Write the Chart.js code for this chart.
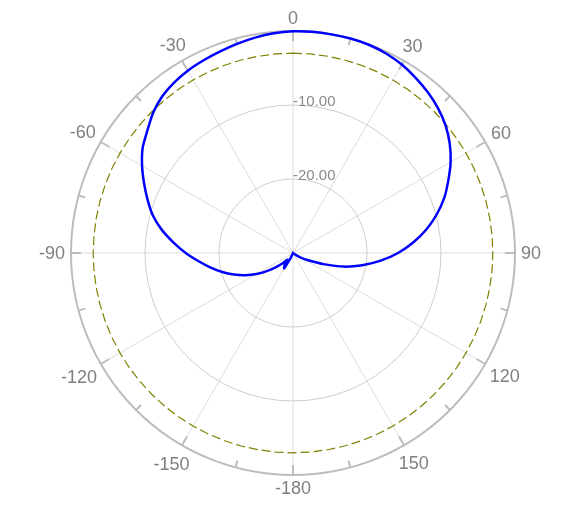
<!DOCTYPE html>
<html>
<head>
<meta charset="utf-8">
<script src="https://cdn.jsdelivr.net/npm/chart.js@4"></script>
<style>
  html, body { margin: 0; padding: 0; background: #fff; }
  canvas { display: block; }
</style>
</head>
<body>
<canvas id="polar" width="588" height="506"></canvas>
<script>
// angle of each sample, clockwise from the top (0 = boresight)
const angles = [
  0, 5, 10, 15, 20, 25, 30, 35, 40, 45, 50, 55,
  60, 65, 70, 75, 80, 85, 90, 95, 100, 105, 110, 115,
  120, 125, 130, 135, 140, 145, 150, 155, 160, 165, 170, 175,
  -180, -175, -170, -165, -160, -155, -150, -145, -140, -135, -130, -125,
  -120, -115, -110, -105, -100, -95, -90, -85, -80, -75, -70, -65,
  -60, -55, -50, -45, -40, -35, -30, -25, -20, -15, -10, -5
];

// measured gain in dB, same order as angles
const gain = [
  -0.05, 0, 0, 0, -0.05, -0.25, -0.6, -1.1, -1.65, -2.3, -3.1, -4.15,
  -5.4, -6.85, -8.25, -9.9, -11.7, -13.7, -15.8, -18.1, -20.5, -22.9, -25.6, -27.6,
  -28.7, -29.5, -30, -30, -30, -30, -30, -30, -30, -30, -30, -30,
  -30, -30, -30, -30, -30, -29.3, -27.6, -28.0, -28.8, -28.1, -27.1, -25.8,
  -24.3, -22.9, -21.5, -20.1, -18.7, -17.2, -15.5, -13.8, -12.0, -10.4, -9.1, -7.8,
  -6.45, -5.2, -4.3, -3.25, -2.45, -1.93, -1.55, -1.3, -1.05, -0.75, -0.45, -0.2
];

const halfPower = -3;               // dashed reference circle
const rMin = -30, rMax = 0, rStep = 10;

const labelFont = "18px 'Liberation Sans', Arial, sans-serif";
const tickFont = "15px 'Liberation Sans', Arial, sans-serif";

const polarDecor = {
  id: 'polarDecor',
  beforeDatasetsDraw(chart) {
    const scale = chart.scales.r;
    const R = scale.drawingArea;
    const ctx = chart.ctx;
    ctx.save();
    ctx.strokeStyle = '#bdbdbd';
    ctx.lineWidth = 2;
    angles.forEach((a, i) => {
      if (a % 15 !== 0) return;
      const len = a % 30 === 0 ? 10 : 7;
      const p1 = scale.getPointPosition(i, R);
      const p2 = scale.getPointPosition(i, R - len);
      ctx.beginPath();
      ctx.moveTo(p1.x, p1.y);
      ctx.lineTo(p2.x, p2.y);
      ctx.stroke();
    });
    ctx.restore();
  },
  afterDraw(chart) {
    const scale = chart.scales.r;
    const R = scale.drawingArea;
    const ctx = chart.ctx;
    ctx.save();
    // angle labels, pushed out by half their box in the radial direction
    ctx.font = labelFont;
    ctx.fillStyle = '#808080';
    ctx.textAlign = 'center';
    ctx.textBaseline = 'middle';
    angles.forEach((a, i) => {
      if (a % 30 !== 0) return;
      const text = String(a);
      const t = scale.getIndexAngle(i);
      const w = ctx.measureText(text).width;
      const d = R + 6 + w / 2 * Math.abs(Math.sin(t)) + 7 * Math.abs(Math.cos(t));
      const p = scale.getPointPosition(i, d);
      ctx.fillText(text, p.x, p.y + 1.5);
    });
    // radial tick labels
    ctx.font = tickFont;
    ctx.fillStyle = '#8a8a8a';
    ctx.textAlign = 'left';
    ctx.textBaseline = 'alphabetic';
    for (let v = rMin + rStep; v < rMax; v += rStep) {
      const y = scale.yCenter - scale.getDistanceFromCenterForValue(v);
      ctx.fillText(v.toFixed(2), scale.xCenter, y + 1);
    }
    ctx.restore();
  }
};

new Chart(document.getElementById('polar'), {
  type: 'radar',
  data: {
    labels: angles,
    datasets: [
      {
        label: 'Gain',
        data: gain,
        borderColor: '#0000ff',
        borderWidth: 2.5,
        pointRadius: 0,
        fill: false,
        tension: 0.2
      },
      {
        label: '-3 dB',
        data: angles.map(() => halfPower),
        borderColor: '#808000',
        borderWidth: 1.2,
        borderDash: [9, 4],
        pointRadius: 0,
        fill: false,
        tension: 0
      }
    ]
  },
  options: {
    responsive: false,
    animation: false,
    layout: { padding: { left: 71, right: 73, top: 31, bottom: 31 } },
    plugins: {
      legend: { display: false },
      tooltip: { enabled: false }
    },
    scales: {
      r: {
        min: rMin,
        max: rMax,
        startAngle: 0,
        ticks: { stepSize: rStep, display: false },
        pointLabels: { display: false },
        grid: {
          circular: true,
          color: c => c.tick && c.tick.value === rMax ? '#bdbdbd' : '#cdcdcd',
          lineWidth: c => c.tick && c.tick.value === rMax ? 2 : 1
        },
        angleLines: {
          color: '#dcdcdc',
          lineWidth: c => angles[c.index] % 30 === 0 ? 1 : 0
        }
      }
    }
  },
  plugins: [polarDecor]
});
</script>
</body>
</html>
